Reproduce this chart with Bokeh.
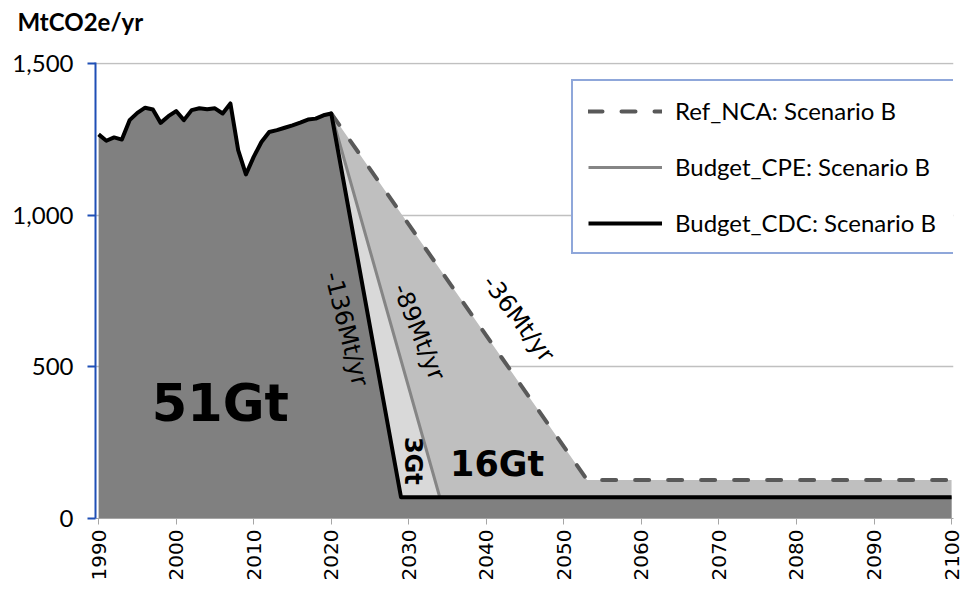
import math
from bokeh.plotting import figure
from bokeh.models import FixedTicker, NumeralTickFormatter, Legend, LegendItem, Title
from bokeh.core.properties import value
from bokeh.embed import file_html
from bokeh.resources import INLINE

# ---- data ----
hist_years = list(range(1990, 2021))
hist_vals = [1266, 1245, 1256, 1249, 1313, 1337, 1354, 1348, 1304, 1326,
             1343, 1313, 1346, 1352, 1349, 1352, 1335, 1368, 1214, 1134,
             1192, 1241, 1274, 1280, 1288, 1296, 1305, 1315, 1318, 1329, 1335]

cdc_years = [2020, 2029, 2100]
cdc_vals = [1335, 70, 70]
cpe_years = [2020, 2034, 2100]
cpe_vals = [1335, 70, 70]
nca_years = [2020, 2053, 2100]
nca_vals = [1335, 127, 127]

x_ticks = list(range(1990, 2101, 10))
y_ticks = [0, 500, 1000, 1500]

legend_labels = ["Ref_NCA: Scenario B", "Budget_CPE: Scenario B", "Budget_CDC: Scenario B"]

dark_x = hist_years + cdc_years[1:]
dark_y = hist_vals + cdc_vals[1:]

AXIS_BLUE = "#1F4FB5"

p = figure(width=964, height=594, x_range=(1989.6, 2100.25), y_range=(0, 1503),
           output_backend="svg", toolbar_location=None, title=None,
           min_border_left=95, min_border_right=11, min_border_top=0, min_border_bottom=76)
p.outline_line_color = None
p.background_fill_color = "white"
p.border_fill_color = "white"

# areas
p.varea(x=nca_years, y1=0, y2=nca_vals, fill_color="#BFBFBF")
p.varea(x=cpe_years, y1=0, y2=cpe_vals, fill_color="#D9D9D9")
p.varea(x=dark_x, y1=0, y2=dark_y, fill_color="#808080")

# lines
r_nca = p.line(nca_years, nca_vals, line_color="#595959", line_width=4,
               line_dash="14 19", line_cap="round", line_join="round")
r_cpe = p.line(cpe_years, cpe_vals, line_color="#858585", line_width=3, line_join="round")
r_cdc = p.line(dark_x, dark_y, line_color="black", line_width=4, line_join="round")

# annotations
p.text(x=[2005.7], y=[379], text=["51Gt"], text_font=value("DejaVu Sans"),
       text_font_style="bold", text_font_size="51px", text_align="center",
       text_baseline="alphabetic", text_color="black")
p.text(x=[2041.4], y=[180], text=["16Gt"], text_font=value("DejaVu Sans"),
       text_font_style="bold", text_font_size="35px", text_align="center",
       text_baseline="alphabetic", text_color="black")
p.text(x=[2030.5], y=[190], text=["3Gt"], text_font=value("DejaVu Sans"),
       text_font_style="bold", text_font_size="24px", text_align="center",
       text_baseline="middle", angle=math.radians(-90), text_color="black")
p.text(x=[2021.97], y=[625], text=["-136Mt/yr"], text_font=value("DejaVu Sans"),
       text_font_size="24px", text_align="center", text_baseline="middle",
       angle=math.radians(-76), text_color="black")
p.text(x=[2031.3], y=[615], text=["-89Mt/yr"], text_font=value("DejaVu Sans"),
       text_font_size="24px", text_align="center", text_baseline="middle",
       angle=math.radians(-68), text_color="black")
p.text(x=[2044.15], y=[659], text=["-36Mt/yr"], text_font=value("DejaVu Sans"),
       text_font_size="24px", text_align="center", text_baseline="middle",
       angle=math.radians(-53), text_color="black")

# axes
xt = FixedTicker(ticks=x_ticks)
p.xaxis.ticker = xt
p.xgrid.visible = False
p.xaxis.major_label_orientation = math.pi / 2
p.xaxis.major_label_text_font = "DejaVu Sans"
p.xaxis.major_label_text_font_size = "20px"
p.xaxis.major_label_text_color = "black"
p.xaxis.axis_line_color = "#A6A6A6"
p.xaxis.axis_line_width = 1
p.xaxis.major_tick_line_color = "#A6A6A6"
p.xaxis.major_tick_out = 6
p.xaxis.major_tick_in = 0
p.xaxis.minor_tick_line_color = None
p.xaxis.major_label_standoff = 5

yt = FixedTicker(ticks=y_ticks)
p.yaxis.ticker = yt
p.ygrid.ticker = yt
p.yaxis.formatter = NumeralTickFormatter(format="0,0")
p.yaxis.major_label_text_font = "Lato"
p.yaxis.major_label_text_font_size = "24px"
p.yaxis.major_label_text_color = "black"
p.yaxis.axis_line_color = AXIS_BLUE
p.yaxis.axis_line_width = 2
p.yaxis.major_tick_line_color = AXIS_BLUE
p.yaxis.major_tick_line_width = 2
p.yaxis.major_tick_out = 8
p.yaxis.major_tick_in = 0
p.yaxis.minor_tick_line_color = None
p.yaxis.major_label_standoff = 14
p.ygrid.grid_line_color = "#C0C0C0"
p.ygrid.grid_line_width = 1.5

# spacer between frame and unit label, then the unit label itself
p.add_layout(Title(text=" ", text_font="Lato", text_font_size="12px", standoff=6), "above")
p.add_layout(Title(text="MtCO2e/yr", align="left", offset=-78, standoff=8,
                   text_font="Lato", text_font_size="24px", text_font_style="bold",
                   text_color="black"), "above")

legend = Legend(items=[LegendItem(label=legend_labels[0], renderers=[r_nca]),
                       LegendItem(label=legend_labels[1], renderers=[r_cpe]),
                       LegendItem(label=legend_labels[2], renderers=[r_cdc])],
                location=(476, 264), orientation="vertical",
                label_text_font="Lato", label_text_font_size="24px", label_text_color="black",
                glyph_width=74, glyph_height=20, label_standoff=13, label_width=264,
                spacing=27, padding=15, margin=0,
                border_line_color=AXIS_BLUE, border_line_width=2,
                background_fill_color="white", background_fill_alpha=1.0)
p.add_layout(legend)

open("out.html", "w").write(file_html(p, INLINE))
